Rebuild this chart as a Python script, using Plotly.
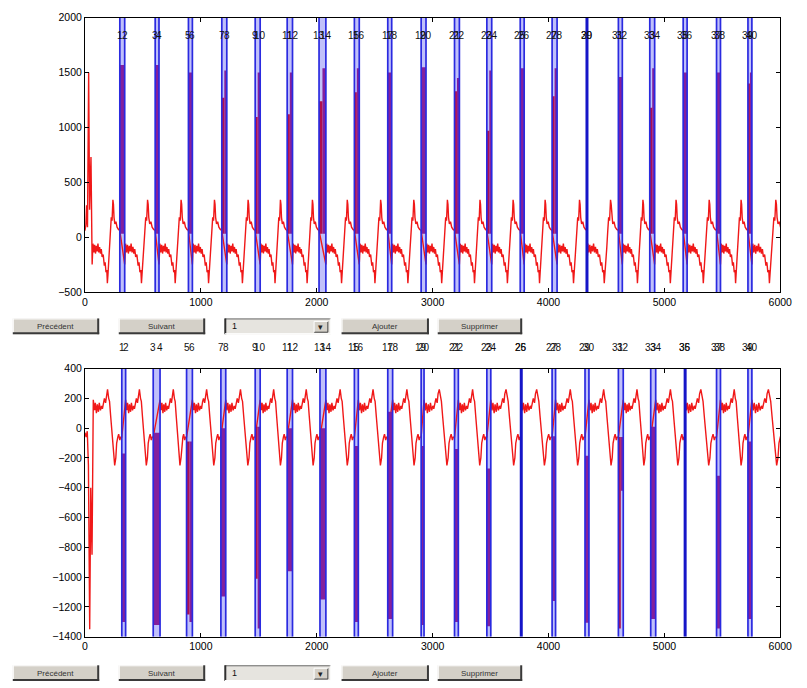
import plotly.graph_objects as go

# ------------------------------------------------------------------ data
X_RANGE = [0, 6000]
X_TICKS = [0, 1000, 2000, 3000, 4000, 5000, 6000]
TOP_Y_RANGE = [-500, 2000]
TOP_Y_TICKS = [-500, 0, 500, 1000, 1500, 2000]
BOT_Y_RANGE = [-1400, 400]
BOT_Y_TICKS = [-1400, -1200, -1000, -800, -600, -400, -200, 0, 200, 400]

# top panel: marker pairs (sample index of the two blue lines of each beat)
TOP_L1 = [301, 606, 893, 1181, 1469, 1745, 2020, 2325, 2613, 2901,
          3189, 3468, 3756, 4031, 4332, 4603, 4874, 5162, 5450, 5721]
TOP_L2 = [343, 639, 927, 1224, 1512, 1791, 2079, 2367, 2647, 2943,
          3231, 3510, 3790, 4074, 4332, 4637, 4916, 5196, 5484, 5755]
TOP_PEAK = [1570, 1570, 1500, 1520, 1500, 1500, 1540, 1540, 1500, 1550,
            1450, 1520, 1540, 1540, 1500, 1460, 1540, 1500, 1500, 1500]
TOP_LEFT_PEAK = [None, None, None, 1270, 1095, 1120, 1240, 1320, None, None,
                 1330, 970, None, 1285, None, None, 1180, None, None, 1400]
TOP_SPIKE_BASE = 30
TOP_NEXT_BEAT = 6030
TOP_INIT_X = [0, 8, 14, 22, 32, 40, 52, 58]
TOP_INIT_Y = [60, 110, 290, 90, 1500, 250, 730, 200]
TOP_FIRST_START = 62
# one beat of the top trace (fraction of the gap, value)
TOP_BEAT_FRAC = [0.00, 0.03, 0.06, 0.09, 0.12, 0.15, 0.18, 0.21, 0.24, 0.27,
                 0.30, 0.33, 0.36, 0.40, 0.44, 0.47, 0.50, 0.53, 0.55, 0.57,
                 0.60, 0.63, 0.66, 0.69, 0.72, 0.75, 0.77, 0.79, 0.82, 0.86,
                 0.90, 0.95, 1.00]
TOP_BEAT_VAL = [-250, -60, -140, -70, -150, -80, -130, -60, -140, -90,
                -150, -110, -180, -160, -260, -230, -320, -300, -420, -350,
                -200, -100, 50, 180, 150, 340, 300, 180, 120, 140,
                90, 70, 60]
TOP_LABEL_Y = 1840

# bottom panel
BOT_L1 = [318, 589, 877, 1173, 1469, 1745, 2028, 2325, 2613, 2901,
          3189, 3468, 3765, 4031, 4315, 4603, 4882, 5179, 5450, 5721]
BOT_L2 = [351, 648, 927, 1215, 1512, 1791, 2079, 2359, 2655, 2926,
          3222, 3502, 3765, 4061, 4349, 4645, 4925, 5179, 5484, 5755]
BOT_TOP = [-170, -30, -90, 0, 10, 0, 0, -120, 110, -120,
           -140, -270, -60, -55, -185, -60, 10, -60, -320, -90]
BOT_DEPTH = [-1300, -1320, -1300, -1130, -1345, -960, -1150, -1300, -1280, -1320,
             -1300, -1330, -1400, -1160, -1305, -420, -1280, -1400, -1345, -1280]
BOT_LEFT_DEPTH = [None, None, -1250, None, -1010, None, None, None, None, None,
                  None, None, None, None, None, -1345, None, None, None, None]
BOT_NEXT_BEAT = 6040
BOT_INIT_X = [0, 10, 20, 30, 41, 50, 61]
BOT_INIT_Y = [-30, -60, -20, -250, -1350, -400, -850]
BOT_FIRST_START = 72
BOT_BEAT_FRAC = [0.00, 0.04, 0.07, 0.11, 0.14, 0.18, 0.21, 0.25, 0.29, 0.32,
                 0.36, 0.39, 0.43, 0.46, 0.50, 0.54, 0.57, 0.61, 0.64, 0.68,
                 0.71, 0.75, 0.79, 0.82, 0.86, 0.89, 0.93, 0.96, 1.00]
BOT_BEAT_VAL = [190, 120, 170, 100, 160, 110, 170, 120, 150, 130,
                180, 200, 170, 230, 260, 200, 180, 80, 0, -100,
                -150, -250, -200, -100, -60, -40, -80, -60, -60]

BUTTON_LABELS = ["Précédent", "Suivant", "1", "Ajouter", "Supprimer"]

# ------------------------------------------------------------------ styles
W, H = 807, 688
RED = "#f01818"
PURPLE = "#84209c"
CRIMSON = "#b0104e"
LAVENDER = "rgba(140,140,245,0.55)"
BLUE = "#2a2ae0"
FONT = "Liberation Sans, Arial, sans-serif"
BOT_LABEL_PX_Y = 348


def px(x):
    return x / W


def py(y):
    return 1 - y / H


def build_signal(init_x, init_y, first, l1, l2, nxt, frac, val):
    xs, ys = list(init_x), list(init_y)
    starts = [first] + list(l2)
    ends = list(l1) + [nxt]
    for a, b in zip(starts, ends):
        for f, v in zip(frac, val):
            xs.append(a + f * (b - a))
            ys.append(v)
    return xs, ys


def band_fills(l1, l2, base, right_end, left_end):
    pxs, pys, cxs, cys = [], [], [], []
    for i in range(len(l1)):
        a, b = l1[i], l2[i]
        if b - a < 10:
            continue
        m = (a + b) / 2
        b0 = base[i] if isinstance(base, list) else base
        if left_end[i] is None:
            pxs += [a, b, b, a, a, None]
            pys += [b0, b0, right_end[i], right_end[i], b0, None]
        else:
            cxs += [a, m, m, a, a, None]
            cys += [b0, b0, left_end[i], left_end[i], b0, None]
            pxs += [m, b, b, m, m, None]
            pys += [b0, b0, right_end[i], right_end[i], b0, None]
    return pxs, pys, cxs, cys


fig = go.Figure()
shapes = []
annotations = []


def add_panel(xa, ya, yr, l1, l2, sig, fills, label_y, label_yref):
    xref = "x" if xa == "x" else "x2"
    yref = "y" if ya == "y" else "y2"
    for a, b in zip(l1, l2):
        if b - a >= 10:
            shapes.append(dict(type="rect", xref=xref, yref=yref + " domain",
                               x0=a, x1=b, y0=0, y1=1, fillcolor=LAVENDER,
                               line=dict(width=0), layer="below"))
    fig.add_trace(go.Scatter(x=sig[0], y=sig[1], mode="lines",
                             line=dict(color=RED, width=1.4),
                             xaxis=xa, yaxis=ya, hoverinfo="skip"))
    pxs, pys, cxs, cys = fills
    fig.add_trace(go.Scatter(x=pxs, y=pys, mode="lines", fill="toself",
                             fillcolor=PURPLE, line=dict(width=0, color=PURPLE),
                             xaxis=xa, yaxis=ya, hoverinfo="skip"))
    if cxs:
        fig.add_trace(go.Scatter(x=cxs, y=cys, mode="lines", fill="toself",
                                 fillcolor=CRIMSON, line=dict(width=0, color=CRIMSON),
                                 xaxis=xa, yaxis=ya, hoverinfo="skip"))
    lx, ly, sx, sy = [], [], [], []
    for a, b in zip(l1, l2):
        if b - a >= 10:
            lx += [a, a, None, b, b, None]
            ly += [yr[0], yr[1], None, yr[0], yr[1], None]
        else:
            sx += [a, a, None]
            sy += [yr[0], yr[1], None]
    fig.add_trace(go.Scatter(x=lx, y=ly, mode="lines", line=dict(color=BLUE, width=1.7),
                             xaxis=xa, yaxis=ya, hoverinfo="skip"))
    fig.add_trace(go.Scatter(x=sx, y=sy, mode="lines", line=dict(color="#1515c8", width=3),
                             xaxis=xa, yaxis=ya, hoverinfo="skip"))
    # beat numbers (one per line, so each pair reads as e.g. "12")
    for i, (a, b) in enumerate(zip(l1, l2)):
        for xv, t in ((a, str(2 * i + 1)), (b, str(2 * i + 2))):
            annotations.append(dict(x=xv, y=label_y, xref=xref, yref=label_yref, text=t,
                                    showarrow=False, xanchor="center", yanchor="middle",
                                    font=dict(family=FONT, size=10, color="#111")))


top_sig = build_signal(TOP_INIT_X, TOP_INIT_Y, TOP_FIRST_START, TOP_L1, TOP_L2,
                       TOP_NEXT_BEAT, TOP_BEAT_FRAC, TOP_BEAT_VAL)
bot_sig = build_signal(BOT_INIT_X, BOT_INIT_Y, BOT_FIRST_START, BOT_L1, BOT_L2,
                       BOT_NEXT_BEAT, BOT_BEAT_FRAC, BOT_BEAT_VAL)

add_panel("x", "y", TOP_Y_RANGE, TOP_L1, TOP_L2, top_sig,
          band_fills(TOP_L1, TOP_L2, TOP_SPIKE_BASE, TOP_PEAK, TOP_LEFT_PEAK),
          TOP_LABEL_Y, "y")
add_panel("x2", "y2", BOT_Y_RANGE, BOT_L1, BOT_L2, bot_sig,
          band_fills(BOT_L1, BOT_L2, BOT_TOP, BOT_DEPTH, BOT_LEFT_DEPTH),
          py(BOT_LABEL_PX_Y), "paper")

# ------------------------------------------------------------------ buttons
BTN_X = [(10, 98), (118, 206), (226, 334), (345, 434), (443, 529)]
ROWS_Y = [(318, 334), (671, 687)]


def hline(x0, x1, y, color, w):
    shapes.append(dict(type="line", xref="paper", yref="paper",
                       x0=px(x0), x1=px(x1), y0=py(y), y1=py(y),
                       line=dict(color=color, width=w)))


def vline(x, y0, y1, color, w):
    shapes.append(dict(type="line", xref="paper", yref="paper",
                       x0=px(x), x1=px(x), y0=py(y0), y1=py(y1),
                       line=dict(color=color, width=w)))


def rect(x0, y0, x1, y1, fill):
    shapes.append(dict(type="rect", xref="paper", yref="paper",
                       x0=px(x0), x1=px(x1), y0=py(y1), y1=py(y0),
                       fillcolor=fill, line=dict(width=0)))


for (ry0, ry1) in ROWS_Y:
    for k, ((bx0, bx1), lab) in enumerate(zip(BTN_X, BUTTON_LABELS)):
        if k == 2:
            rect(bx0, ry0, bx1, ry1, "#e6e4df")
            hline(bx0, bx1, ry0 + 0.5, "#6a6a6a", 1)
            vline(bx0 + 0.5, ry0, ry1, "#303030", 2)
            hline(bx0, bx1, ry1 - 0.5, "#ffffff", 1)
            vline(bx1 - 0.5, ry0, ry1, "#ffffff", 1)
            ax0, ax1 = bx1 - 17, bx1 - 3
            rect(ax0, ry0 + 3, ax1, ry1 - 2, "#d4d0c8")
            hline(ax0, ax1, ry1 - 2, "#404040", 1)
            vline(ax1, ry0 + 3, ry1 - 2, "#404040", 1)
            hline(ax0, ax1, ry0 + 3, "#ffffff", 1)
            vline(ax0, ry0 + 3, ry1 - 2, "#ffffff", 1)
            annotations.append(dict(x=px((ax0 + ax1) / 2), y=py((ry0 + ry1) / 2 + 0.5),
                                    xref="paper", yref="paper", text="▾", showarrow=False,
                                    font=dict(family="DejaVu Sans", size=9, color="#222"),
                                    xanchor="center", yanchor="middle"))
            annotations.append(dict(x=px(bx0 + 5), y=py((ry0 + ry1) / 2), xref="paper",
                                    yref="paper", text=lab, showarrow=False,
                                    font=dict(family=FONT, size=9, color="#111"),
                                    xanchor="left", yanchor="middle"))
        else:
            rect(bx0, ry0, bx1, ry1, "#d4d0c8")
            hline(bx0, bx1, ry0 + 0.5, "#ffffff", 1)
            vline(bx0 + 0.5, ry0, ry1, "#ffffff", 1)
            hline(bx0, bx1, ry1 - 1, "#3a3a3a", 2)
            vline(bx1 - 1, ry0, ry1, "#3a3a3a", 2)
            annotations.append(dict(x=px((bx0 + bx1) / 2), y=py((ry0 + ry1) / 2), xref="paper",
                                    yref="paper", text=lab, showarrow=False,
                                    font=dict(family=FONT, size=8, color="#333"),
                                    xanchor="center", yanchor="middle"))

# ------------------------------------------------------------------ axes
X_DOM = [83.5 / W, 792 / W]
axis_common = dict(showline=True, linecolor="black", linewidth=1, mirror="allticks",
                   ticks="inside", ticklen=4, tickcolor="black", showgrid=False,
                   zeroline=False, tickfont=dict(family=FONT, size=10.5, color="black"))

fig.update_layout(
    width=W, height=H, margin=dict(l=0, r=0, t=0, b=0),
    paper_bgcolor="white", plot_bgcolor="white", showlegend=False,
    shapes=shapes, annotations=annotations,
    xaxis=dict(domain=X_DOM, range=X_RANGE, tickvals=X_TICKS, anchor="y", **axis_common),
    yaxis=dict(domain=[1 - 291 / H, 1 - 12 / H], range=TOP_Y_RANGE, tickvals=TOP_Y_TICKS,
               anchor="x", **axis_common),
    xaxis2=dict(domain=X_DOM, range=X_RANGE, tickvals=X_TICKS, anchor="y2", **axis_common),
    yaxis2=dict(domain=[1 - 642 / H, 1 - 369 / H], range=BOT_Y_RANGE, tickvals=BOT_Y_TICKS,
                anchor="x2", **axis_common),
)

fig.write_html("out.html",
               config={"displayModeBar": False},
               post_script="document.body.style.margin='0px';"
                           "document.body.style.padding='0px';"
                           "document.body.style.overflow='hidden';")
